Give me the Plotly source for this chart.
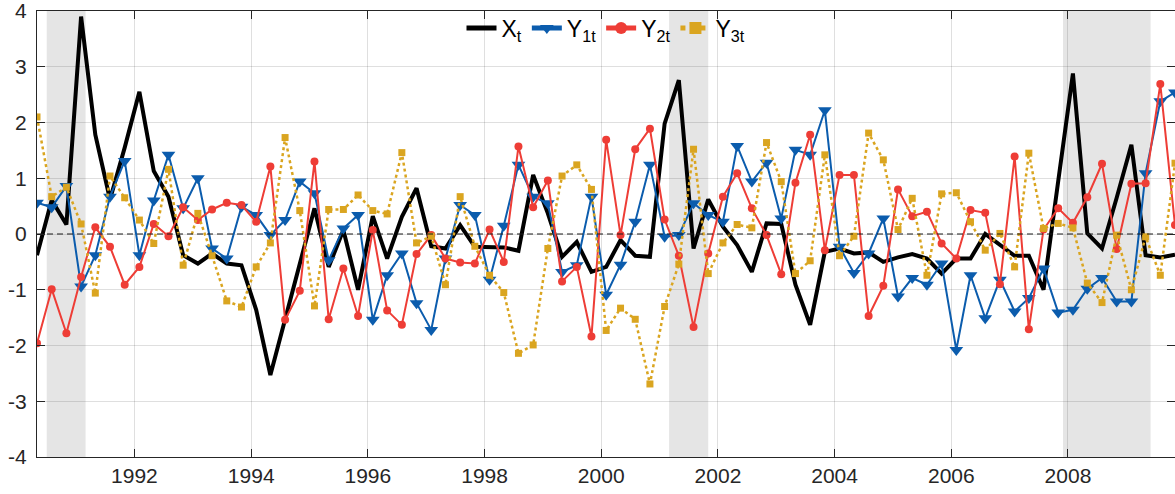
import pandas as pd
import plotly.graph_objects as go

# ---------------- data ----------------
start_quarter = "1990-05-01"
n_quarters = 79
dates = pd.date_range(start_quarter, periods=n_quarters, freq="3MS")

x_t = [-0.38, 0.61, 0.17, 3.90, 1.78, 0.62, 1.55, 2.55, 1.13, 0.67,
       -0.38, -0.53, -0.35, -0.53, -0.56, -1.36, -2.53, -1.55, -0.56, 0.46,
       -0.59, 0.07, -1.00, 0.32, -0.44, 0.31, 0.82, -0.22, -0.26, 0.16,
       -0.23, -0.23, -0.24, -0.30, 1.06, 0.37, -0.41, -0.14, -0.68, -0.59,
       -0.11, -0.39, -0.41, 1.98, 2.76, -0.26, 0.62, 0.13, -0.20, -0.68,
       0.19, 0.18, -0.91, -1.63, -0.32, -0.26, -0.35, -0.33, -0.50, -0.42,
       -0.36, -0.44, -0.71, -0.44, -0.44, 0.00, -0.20, -0.39, -0.39, -1.00,
       0.95, 2.88, 0.01, -0.26, 0.65, 1.60, -0.38, -0.42, -0.37]

y1_t = [0.56, 0.48, 0.86, -0.94, -0.38, 0.67, 1.31, -0.38, 0.60, 1.42,
        0.46, 1.00, -0.26, -0.44, 0.49, 0.34, -0.02, 0.25, 0.94, 0.73,
        -0.47, 0.10, 0.34, -1.54, -0.74, -0.35, -1.24, -1.72, -0.44, 0.52,
        0.34, -0.82, 0.15, 1.24, 0.67, 0.55, -0.68, -0.56, 0.67, -1.09,
        -0.55, 0.22, 1.24, -0.05, -0.02, 0.55, 0.34, 0.22, 1.58, 0.94,
        1.28, 0.28, 1.51, 1.42, 2.22, -0.23, -0.70, -0.35, 0.28, -1.12,
        -0.79, -0.91, -0.53, -2.08, -0.74, -1.51, -0.82, -1.39, -1.15, -0.62,
        -1.41, -1.36, -0.98, -0.79, -1.21, -1.21, 1.09, 2.38, 2.54]

y2_t = [-1.96, -0.99, -1.78, -0.77, 0.12, -0.23, -0.91, -0.59, 0.18, -0.04,
        0.48, 0.25, 0.44, 0.56, 0.52, 0.22, 1.21, -1.54, -1.02, 1.30,
        -1.53, -0.62, -1.47, 0.07, -1.37, -1.63, -0.36, -0.02, -0.44, -0.51,
        -0.53, 0.08, -0.50, 1.57, 0.48, 0.96, -0.85, -0.59, -1.84, 1.69,
        -0.02, 1.52, 1.89, 0.26, -0.39, -1.67, -0.35, 0.67, 1.09, 0.46,
        -0.02, -0.72, 0.92, 1.78, -0.29, 1.06, 1.06, -1.47, -0.93, 0.80,
        0.32, 0.40, -0.17, -0.44, 0.43, 0.38, -0.90, 1.39, -1.71, 0.08,
        0.46, 0.20, 0.66, 1.26, -0.27, 0.90, 0.91, 2.69, 0.16]

y3_t = [2.10, 0.67, 0.84, 0.18, -1.06, 1.04, 0.65, 0.25, -0.17, 1.16,
        -0.56, 0.37, -0.39, -1.20, -1.31, -0.59, -0.16, 1.73, 0.42, -1.29,
        0.44, 0.44, 0.70, 0.42, 0.36, 1.46, -0.16, -0.04, -0.91, 0.67,
        -0.22, -0.74, -1.05, -2.14, -1.99, -0.26, 1.04, 1.24, 0.80, -1.73,
        -1.33, -1.53, -2.69, -1.30, -0.54, 1.52, -0.71, -0.16, 0.17, 0.11,
        1.64, 0.94, -0.71, -0.48, 1.42, -0.39, -0.04, 1.81, 1.33, 0.08,
        0.64, -0.74, 0.72, 0.74, 0.22, -0.29, 0.01, -0.59, 1.45, 0.10,
        0.19, 0.11, -0.88, -1.23, -0.02, -1.00, -0.05, -0.74, 1.27]

series_names = ["X<sub>t</sub>", "Y<sub>1t</sub>", "Y<sub>2t</sub>", "Y<sub>3t</sub>"]

recession_starts = ["1990-07-01", "2001-03-01", "2007-12-01"]
recession_ends = ["1991-03-01", "2001-11-01", "2009-06-01"]

year_tick_years = list(range(1992, 2009, 2))
year_ticks = [f"{y}-01-01" for y in year_tick_years]
year_labels = [str(y) for y in year_tick_years]
y_ticks = list(range(-4, 5))
y_labels = [str(v) for v in y_ticks]

# ---------------- styles ----------------
BLUE = "#0B5CAD"
RED = "#EE3D36"
GOLD = "#DAA520"
AX = "#262626"
GRID = "rgba(38,38,38,0.15)"
FONT = "Liberation Sans, Arial, sans-serif"

fig = go.Figure()

fig.add_trace(go.Scatter(x=dates, y=x_t, name=series_names[0], mode="lines",
                         line=dict(color="black", width=4)))
fig.add_trace(go.Scatter(x=dates, y=y1_t, name=series_names[1], mode="lines+markers",
                         line=dict(color=BLUE, width=2),
                         marker=dict(symbol="triangle-down", size=12, color=BLUE)))
fig.add_trace(go.Scatter(x=dates, y=y2_t, name=series_names[2], mode="lines+markers",
                         line=dict(color=RED, width=2),
                         marker=dict(symbol="circle", size=8, color=RED)))
fig.add_trace(go.Scatter(x=dates, y=y3_t, name=series_names[3], mode="lines+markers",
                         line=dict(color=GOLD, width=2.5, dash="dot"),
                         marker=dict(symbol="square", size=7, color=GOLD)))

shapes = []
for s, e in zip(recession_starts, recession_ends):
    shapes.append(dict(type="rect", xref="x", yref="paper", x0=s, x1=e, y0=0, y1=1,
                       fillcolor="#E5E5E5", line=dict(width=0), layer="below"))
shapes.append(dict(type="line", xref="paper", yref="y", x0=0, x1=1, y0=0, y1=0,
                   line=dict(color="#1A1A1A", width=1, dash="6px,4px"), layer="above"))

fig.update_layout(
    width=1175, height=494,
    margin=dict(l=37, r=0, t=11, b=37, autoexpand=False),
    paper_bgcolor="white", plot_bgcolor="white",
    font=dict(family=FONT, size=21, color=AX),
    shapes=shapes,
    showlegend=True,
    legend=dict(orientation="h", x=0.5, xanchor="center", y=1.01, yanchor="top",
                bgcolor="rgba(0,0,0,0)", font=dict(size=23, color="black"),
                itemwidth=30, tracegroupgap=0, itemsizing="constant"),
    xaxis=dict(type="date", range=[dates[0], dates[-1]],
               tickmode="array", tickvals=year_ticks, ticktext=year_labels,
               showgrid=True, gridcolor=GRID, gridwidth=1,
               ticks="inside", ticklen=8, tickcolor=AX,
               showline=True, linecolor=AX, linewidth=1, mirror="ticks",
               zeroline=False, tickfont=dict(size=21, color=AX),
               ticklabeloverflow="allow", automargin=False),
    yaxis=dict(range=[-4, 4], tickmode="array", tickvals=y_ticks, ticktext=y_labels,
               showgrid=True, gridcolor=GRID, gridwidth=1,
               ticks="inside", ticklen=8, tickcolor=AX,
               showline=True, linecolor=AX, linewidth=1, mirror="ticks",
               zeroline=False, tickfont=dict(size=21, color=AX),
               ticklabeloverflow="allow", automargin=False, ticklabelstandoff=5),
)

fig.write_html("out.html",
               config={"displayModeBar": False},
               post_script="document.body.style.margin='0';document.body.style.overflow='hidden';")
